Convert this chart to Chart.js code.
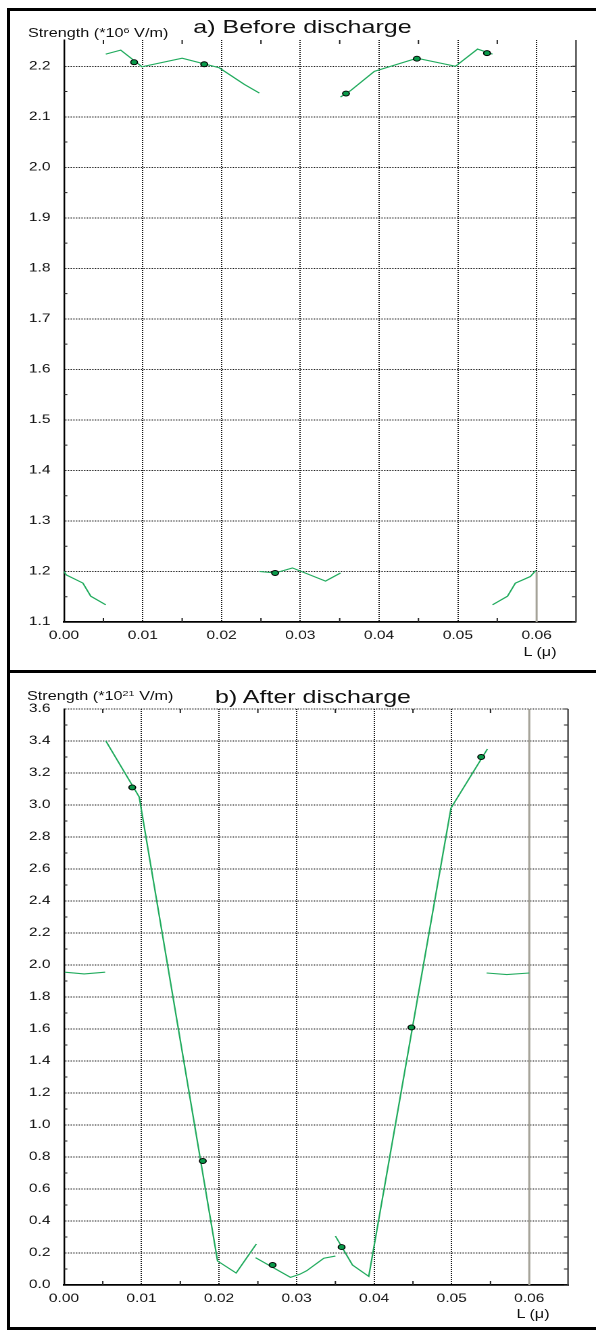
<!DOCTYPE html>
<html lang="en">
<head>
<meta charset="UTF-8">
<title>Strength before and after discharge</title>
<style>
  html, body { margin: 0; overflow: hidden; }
  body { background: #fff; width: 596px; height: 1332px; position: relative;
         font-family: "Liberation Sans", Arial, sans-serif; color: #111; }
  /* the original figure is stretched sideways, so everything is drawn narrow and scaled */
  #stage { position: absolute; left: 0; top: 0; width: 441px; height: 1332px;
           transform: scaleX(1.3515); transform-origin: 0 0; }
  #stage canvas { position: absolute; left: 0; }
  .txt { position: absolute; white-space: nowrap; line-height: 1; }
  .title { font-size: 18.5px; transform: translateX(-50%); }
  .unit { font-size: 12px; }
  .unit sup { font-size: 8px; vertical-align: 4px; line-height: 0; }
  .axis { font-size: 12px; transform: translateX(-50%); }
  .rule { position: absolute; background: #000; }
</style>
</head>
<body>
  <div id="stage">
    <canvas id="chartBefore" width="441" height="670" style="top:0; width:441px; height:670px;"></canvas>
    <canvas id="chartAfter" width="441" height="660" style="top:672px; width:441px; height:660px;"></canvas>

    <div class="txt title" style="left:223.8px; top:17.6px;">a) Before discharge</div>
    <div class="txt unit" style="left:20.7px; top:26.8px;">Strength (*10<sup>6</sup> V/m)</div>
    <div class="txt axis" style="left:399.6px; top:645.5px;">L (μ)</div>

    <div class="txt title" style="left:231.6px; top:688.3px;">b) After discharge</div>
    <div class="txt unit" style="left:20px; top:689.8px;">Strength (*10<sup>21</sup> V/m)</div>
    <div class="txt axis" style="left:394.4px; top:1307.5px;">L (μ)</div>
  </div>

  <!-- frame round the two panels -->
  <div class="rule" style="left:7px; top:8px; width:589px; height:3px;"></div>
  <div class="rule" style="left:7px; top:8px; width:3px; height:1322px;"></div>
  <div class="rule" style="left:7px; top:670px; width:589px; height:3px;"></div>
  <div class="rule" style="left:7px; top:1327px; width:589px; height:3px;"></div>

  <script src="https://cdn.jsdelivr.net/npm/chart.js"></script>
  <script>
    // axis ticks
    const xTicks = [0, 0.01, 0.02, 0.03, 0.04, 0.05, 0.06];
    const yTicksBefore = [1.1, 1.2, 1.3, 1.4, 1.5, 1.6, 1.7, 1.8, 1.9, 2.0, 2.1, 2.2];
    const yTicksAfter = [0, 0.2, 0.4, 0.6, 0.8, 1.0, 1.2, 1.4, 1.6, 1.8, 2.0, 2.2, 2.4, 2.6, 2.8, 3.0, 3.2, 3.4, 3.6];

    // a) before discharge, line pieces (null = break)
    const beforeX = [0, 0.0003, 0.0024, 0.0034, 0.0053, null,
                     0.0053, 0.0072, 0.0099, 0.0150, 0.0197, 0.0229, 0.0248, null,
                     0.0248, 0.0268, 0.0290, 0.0332, 0.0351, null,
                     0.0351, 0.0364, 0.0394, 0.0448, 0.0497, 0.0525, 0.0544, null,
                     0.0544, 0.0563, 0.0573, 0.0592, 0.0599];
    const beforeY = [1.200, 1.193, 1.177, 1.151, 1.134, null,
                     2.224, 2.232, 2.199, 2.216, 2.197, 2.164, 2.147, null,
                     1.200, 1.197, 1.207, 1.181, 1.197, null,
                     2.139, 2.152, 2.190, 2.216, 2.200, 2.234, 2.224, null,
                     1.134, 1.151, 1.177, 1.190, 1.202];
    const markBeforeX = [0.0089, 0.0178, 0.0268, 0.0358, 0.0448, 0.0537];
    const markBeforeY = [2.208, 2.204, 1.197, 2.146, 2.215, 2.226];
    const edgeBeforeX = [0.06, 0.06];
    const edgeBeforeY = [1.1, 1.2];

    // b) after discharge
    const afterX = [0.0001, 0.0026, 0.0053, null,
                    0.0054, 0.0097, 0.0198, 0.0222, 0.0248, null,
                    0.0247, 0.0292, 0.0304, 0.0313, 0.0335, 0.0350, null,
                    0.0350, 0.0372, 0.0393, 0.0499, 0.0546, null,
                    0.0545, 0.0571, 0.0600];
    const afterY = [1.955, 1.944, 1.955, null,
                    3.40, 3.05, 0.15, 0.075, 0.256, null,
                    0.171, 0.048, 0.067, 0.089, 0.167, 0.181, null,
                    0.306, 0.125, 0.054, 2.98, 3.35, null,
                    1.950, 1.940, 1.950];
    const markAfterX = [0.0088, 0.0179, 0.0269, 0.0358, 0.0448, 0.0538];
    const markAfterY = [3.11, 0.775, 0.125, 0.237, 1.61, 3.30];
    const edgeAfterX = [0.06, 0.06];
    const edgeAfterY = [0, 3.6];

    const GREEN = '#1faa5c';
    Chart.defaults.font.family = '"Liberation Sans", Arial, sans-serif';
    Chart.defaults.font.size = 11.5;
    Chart.defaults.color = '#111';

    function toPoints(xs, ys) {
      return xs.map((x, i) => ({ x: x, y: ys[i] }));
    }

    function midpoints(list) {
      const out = [];
      for (let i = 1; i < list.length; i++) out.push((list[i - 1] + list[i]) / 2);
      return out;
    }

    // small inward ticks on all four sides plus the right frame line
    const frameTicks = {
      id: 'frameTicks',
      afterDatasetsDraw(chart, args, opts) {
        const { ctx, chartArea: a, scales: { x, y } } = chart;
        ctx.save();
        ctx.strokeStyle = '#222';
        ctx.lineWidth = 1;
        ctx.beginPath();
        midpoints(xTicks).forEach(v => {
          const px = x.getPixelForValue(v);
          ctx.moveTo(px, a.top); ctx.lineTo(px, a.top + 4);
          ctx.moveTo(px, a.bottom); ctx.lineTo(px, a.bottom - 4);
        });
        const yMinor = midpoints(opts.yTicks);
        yMinor.forEach(v => {
          const py = y.getPixelForValue(v);
          ctx.moveTo(a.left, py); ctx.lineTo(a.left + 2.5, py);
        });
        opts.yTicks.concat(yMinor).forEach(v => {
          const py = y.getPixelForValue(v);
          ctx.moveTo(a.right, py); ctx.lineTo(a.right - 3, py);
        });
        ctx.stroke();
        ctx.strokeStyle = '#444';
        ctx.lineWidth = 1.2;
        ctx.beginPath();
        ctx.moveTo(a.right, a.top);
        ctx.lineTo(a.right, a.bottom);
        ctx.stroke();
        ctx.restore();
      }
    };

    function makeChart(id, cfg) {
      return new Chart(document.getElementById(id), {
        type: 'scatter',
        data: {
          datasets: [
            {
              data: toPoints(cfg.markX, cfg.markY),
              pointRadius: 2.5,
              pointBackgroundColor: '#0a9a4a',
              pointBorderColor: '#000',
              pointBorderWidth: 0.9,
              showLine: false
            },
            {
              data: toPoints(cfg.lineX, cfg.lineY),
              showLine: true,
              spanGaps: false,
              borderColor: GREEN,
              borderWidth: 1.1,
              pointRadius: 0
            },
            {
              data: toPoints(cfg.edgeX, cfg.edgeY),
              showLine: true,
              borderColor: '#a4a298',
              borderWidth: 1.5,
              pointRadius: 0
            }
          ]
        },
        options: {
          responsive: false,
          animation: false,
          devicePixelRatio: 2,
          layout: { padding: { top: cfg.top, right: cfg.right, bottom: 0, left: 0 } },
          plugins: {
            legend: { display: false },
            tooltip: { enabled: false },
            frameTicks: { yTicks: cfg.yTicks }
          },
          scales: {
            x: {
              type: 'linear',
              min: 0,
              max: 0.065,
              afterBuildTicks: s => { s.ticks = xTicks.map(v => ({ value: v })); },
              afterFit: s => { s.height = cfg.xHeight; },
              ticks: { autoSkip: false, maxRotation: 0, padding: 7, callback: v => v.toFixed(2) },
              grid: { color: '#1a1a1a', lineWidth: 1, drawTicks: false },
              border: { color: '#000', width: 1.8, dash: [1, 1] }
            },
            y: {
              type: 'linear',
              min: cfg.yMin,
              max: cfg.yMax,
              afterBuildTicks: s => { s.ticks = cfg.yTicks.map(v => ({ value: v })); },
              afterFit: s => { s.width = 47.35; },
              ticks: { autoSkip: false, padding: 10, callback: v => v.toFixed(1) },
              grid: { color: '#1a1a1a', lineWidth: 1, drawTicks: false },
              border: { color: '#000', width: 1.2, dash: [1, 1] }
            }
          }
        },
        plugins: [frameTicks]
      });
    }

    makeChart('chartBefore', {
      lineX: beforeX, lineY: beforeY,
      markX: markBeforeX, markY: markBeforeY,
      edgeX: edgeBeforeX, edgeY: edgeBeforeY,
      yTicks: yTicksBefore, yMin: 1.1, yMax: 2.252,
      top: 40, right: 14.8, xHeight: 48
    });

    makeChart('chartAfter', {
      lineX: afterX, lineY: afterY,
      markX: markAfterX, markY: markAfterY,
      edgeX: edgeAfterX, edgeY: edgeAfterY,
      yTicks: yTicksAfter, yMin: 0, yMax: 3.6,
      top: 37, right: 20.7, xHeight: 47
    });
  </script>
</body>
</html>
